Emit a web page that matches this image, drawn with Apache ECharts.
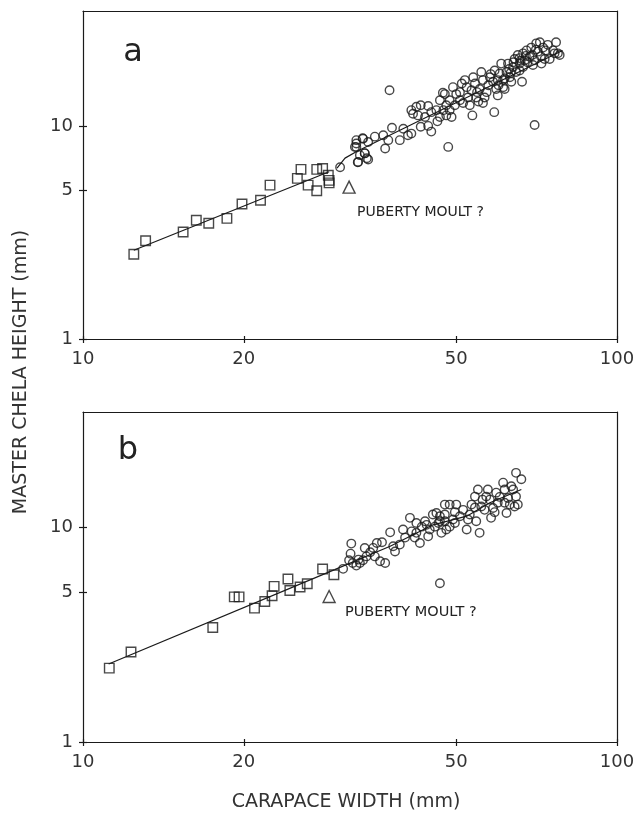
<!DOCTYPE html>
<html><head><meta charset="utf-8">
<script src="https://cdn.jsdelivr.net/npm/echarts@6/dist/echarts.min.js"></script>
<style>html,body{margin:0;padding:0;background:#fff}#c{width:638px;height:815px}</style>
</head><body><div id="c"></div>
<script>
// Axis ticks / ranges
const xTicks = [10, 20, 50, 100];
const yTicks = [1, 5, 10];
const xRange = [10, 100];
const yRange = [1, 34.6];

// Panel a: immature (squares), mature (circles)
const squaresA = [[12.45,2.50],[13.1,2.89],[15.4,3.18],[16.3,3.61],[17.2,3.49],[18.6,3.68],[19.85,4.30],[21.5,4.48],[22.4,5.27],[25.6,6.25],[25.2,5.67],[26.4,5.27],[27.4,4.96],[27.4,6.25],[28.1,6.31],[28.8,5.87],[28.9,5.40],[28.9,5.55]];
const circlesA = [[30.3,6.40],[32.5,8.27],[33.4,8.76],[32.5,7.95],[33.7,7.45],[32.7,6.75],[34.0,7.05],[32.5,8.57],[32.3,7.97],[33.45,8.7],[34.2,8.4],[35.2,8.9],[36.5,9.04],[37.3,8.57],[36.8,7.83],[37.9,9.8],[39.2,8.57],[39.8,9.7],[40.6,9.04],[41.2,9.2],[33.0,7.29],[33.7,7.43],[32.75,6.77],[34.2,6.95],
[41.2,11.85],[42.1,12.3],[42.9,12.5],[44.3,12.4],[41.5,11.4],[42.4,11.2],[43.7,11.0],[44.9,11.6],[42.9,9.9],[44.3,10.0],[44.9,9.4],[45.9,11.85],[46.6,11.0],[46.1,10.5],[47.3,11.85],[47.6,14.1],[48.6,13.2],[47.9,12.5],[48.6,11.85],[49.0,11.0],[47.9,11.2],
[49.3,15.2],[50.0,14.1],[50.8,13.2],[51.9,16.4],[52.3,15.2],[52.6,13.6],[51.5,12.8],[53.4,14.7],[54.5,13.6],[54.2,15.8],[55.3,14.9],[55.7,17.9],[56.1,16.4],[56.5,13.6],[57.4,15.5],[57.8,16.9],[58.6,16.1],[59.0,18.2],[59.4,14.9],[60.3,17.6],[60.7,19.6],[61.2,16.4],[61.6,14.9],[62.1,17.9],[62.5,19.6],[63.0,16.9],[63.9,18.9],[64.3,20.6],[65.2,21.5],[65.7,19.6],[66.7,21.9],[67.2,20.3],[67.7,22.6],[68.6,21.1],[69.1,23.3],[69.6,19.3],[70.6,24.4],[71.1,22.3],[71.7,24.7],[72.2,19.6],[72.7,23.3],[73.2,20.6],[74.8,20.6],[75.9,22.6],[76.9,24.7],[77.5,21.9],[78.1,21.5],[76.4,21.9],[70.1,20.3],[66.7,18.9],[64.7,17.9],[63.4,16.1],[61.2,15.2],
[37.5,14.7],[48.3,7.97],[53.6,11.2],[58.9,11.6],[70.1,10.1],[66.4,16.1],[56.1,12.8],
[46.6,13.2],[47.2,14.3],[49.7,12.5],[50.8,14.4],[53.0,12.5],[54.7,14.4],[57.0,14.4],[59.8,16.4],[61.6,16.7],[63.2,17.7],[65.7,18.2],[68.0,19.9],[69.4,21.5],[73.5,22.6],[65.7,20.8],[59.8,13.9],
[51.2,15.8],[53.8,16.9],[55.0,13.0],[58.0,17.5],[60.0,15.5],[62.8,18.5],[64.0,19.9],[66.0,20.2],[67.5,21.3],[70.5,22.8],[72.0,21.2],[74.2,24.0]];
const fitSquaresA = [[12.45,2.61],[28.9,6.09]];
const fitCirclesA = [[29.9,6.34],[30.95,7.06],[32.6,7.61],[79.1,22.6]];
const moultA = [[31.5,5.16]];

// Panel b
const squaresB = [[11.2,2.21],[12.3,2.63],[17.5,3.42],[19.2,4.75],[19.6,4.75],[20.95,4.21],[21.9,4.52],[22.6,4.81],[22.8,5.32],[24.2,5.76],[24.4,5.09],[25.5,5.28],[26.3,5.47],[28.1,6.41],[29.5,6.03]];
const circlesB = [[30.7,6.42],[31.8,8.42],[31.7,7.56],[31.5,7.04],[32.5,6.65],[33.45,7.04],[33.7,8.03],[33.0,6.84],[32.0,6.84],[32.8,7.09],[33.95,7.34],[34.5,7.67],[34.95,8.04],[35.2,7.34],[35.5,8.48],[36.3,8.54],[36.0,6.97],[36.8,6.84],[37.6,9.5],[38.1,8.18],[38.4,7.74],[39.2,8.33],[39.75,9.79],[40.1,8.98],[40.95,11.1],[41.25,9.6],[41.8,8.98],[42.1,9.45],[42.75,8.48],[43.1,10.1],[43.7,10.7],[44.3,9.1],[44.6,9.79],[45.2,11.5],[45.6,10.1],[46.3,10.5],[46.6,11.3],[46.9,9.45],[47.6,10.7],[47.9,9.79],[48.6,10.1],[49.3,10.9],[48.6,12.8],[47.6,12.8],[50.0,12.8],[49.7,10.5],[50.8,11.3],[51.5,12.1],[52.3,9.79],[53.0,11.5],[53.4,12.8],[54.2,13.95],[54.5,10.7],[55.3,9.45],[54.9,15.05],[55.7,12.55],[56.5,12.1],[56.9,13.95],[57.3,15.05],[58.1,11.1],[57.8,13.5],[58.6,12.35],[59.4,14.55],[59.8,13.05],[61.2,16.2],[61.6,15.05],[62.1,11.7],[62.5,13.75],[63.0,12.8],[63.4,15.6],[63.9,15.05],[64.7,18.0],[64.7,13.95],[65.2,12.8],[66.2,16.8],[64.3,12.55],[45.9,11.7],[46.6,10.7],[44.0,10.3],[42.1,10.5],[46.6,5.5],[47.6,11.5],[49.7,11.8],[52.6,10.9],[54.2,12.4],[56.0,13.5],[60.3,13.9],[61.6,13.05],[59.0,11.8]];
const fitSquaresB = [[11.17,2.31],[29.6,6.37]];
const fitCirclesB = [[29.6,6.37],[37.6,8.18],[45.25,10.3],[52.3,11.3],[57.8,13.05],[66.2,15.05]];
const moultB = [[28.9,4.77]];

const INK = '#1a1a1a';
const TXT = '#333';
const FONT = '"DejaVu Sans", sans-serif';

function axesFor(g) {
  const lineStyle = {color: INK, width: 1.2};
  const xs = [
    {type:'log', logBase:10, gridIndex:g, min:xRange[0], max:xRange[1], position:'bottom',
     axisLine:{show:true, lineStyle}, axisTick:{show:true, length:4, customValues:xTicks, lineStyle},
     axisLabel:{customValues:xTicks, fontSize:18, color:TXT, fontFamily:FONT, margin:11},
     splitLine:{show:false}},
    {type:'log', logBase:10, gridIndex:g, min:xRange[0], max:xRange[1], position:'top',
     axisLine:{show:true, lineStyle}, axisTick:{show:false}, axisLabel:{show:false}, splitLine:{show:false}},
    {type:'log', logBase:10, gridIndex:g, min:xRange[0], max:xRange[1], position:'bottom',
     axisLine:{show:false}, axisTick:{show:true, inside:true, length:3, customValues:xTicks, lineStyle},
     axisLabel:{show:false}, splitLine:{show:false}}
  ];
  const ys = [
    {type:'log', logBase:10, gridIndex:g, min:yRange[0], max:yRange[1], position:'left',
     axisLine:{show:true, lineStyle}, axisTick:{show:true, length:4, customValues:yTicks, lineStyle},
     axisLabel:{customValues:yTicks, fontSize:18, color:TXT, fontFamily:FONT, margin:10},
     splitLine:{show:false}},
    {type:'log', logBase:10, gridIndex:g, min:yRange[0], max:yRange[1], position:'right',
     axisLine:{show:true, lineStyle}, axisTick:{show:false}, axisLabel:{show:false}, splitLine:{show:false}},
    {type:'log', logBase:10, gridIndex:g, min:yRange[0], max:yRange[1], position:'left',
     axisLine:{show:false}, axisTick:{show:true, inside:true, length:4, customValues:yTicks, lineStyle},
     axisLabel:{show:false}, splitLine:{show:false}}
  ];
  return {xs, ys};
}
const A = axesFor(0), B = axesFor(1);

const hollow = {color:'rgba(0,0,0,0)', borderColor:INK, borderWidth:1.4};
function sc(data, xi, symbol, size) {
  return {type:'scatter', xAxisIndex:xi, yAxisIndex:xi, data, symbol, symbolSize:size,
          itemStyle:hollow, silent:true, z:3};
}
function ln(data, xi) {
  return {type:'line', xAxisIndex:xi, yAxisIndex:xi, data, showSymbol:false, symbol:'none',
          lineStyle:{color:INK, width:1.2}, silent:true, z:2};
}

const option = {
  backgroundColor:'#fff',
  animation:false,
  grid:[
    {left:83, top:11, width:534, height:328},
    {left:83, top:412, width:534, height:330}
  ],
  xAxis:[...A.xs, ...B.xs],
  yAxis:[...A.ys, ...B.ys],
  series:[
    ln(fitSquaresA,0), ln(fitCirclesA,0),
    sc(squaresA,0,'rect',9.5), sc(circlesA,0,'circle',8.5), sc(moultA,0,'triangle',12),
    ln(fitSquaresB,3), ln(fitCirclesB,3),
    sc(squaresB,3,'rect',9.5), sc(circlesB,3,'circle',8.5), sc(moultB,3,'triangle',12)
  ],
  graphic:[
    {type:'text', x:133, y:53, style:{text:'a', font:'32px '+FONT, fill:'#222', align:'center', verticalAlign:'middle'}},
    {type:'text', x:128, y:451, style:{text:'b', font:'32px '+FONT, fill:'#222', align:'center', verticalAlign:'middle'}},
    {type:'text', x:357, y:212, style:{text:'PUBERTY MOULT ?', font:'14px '+FONT, fill:'#222', align:'left', verticalAlign:'middle'}},
    {type:'text', x:345, y:612, style:{text:'PUBERTY MOULT ?', font:'14.5px '+FONT, fill:'#222', align:'left', verticalAlign:'middle'}},
    {type:'text', x:21, y:372, rotation:Math.PI/2, style:{text:'MASTER CHELA HEIGHT (mm)', font:'19px '+FONT, fill:TXT, align:'center', verticalAlign:'middle'}},
    {type:'text', x:346, y:802, style:{text:'CARAPACE WIDTH (mm)', font:'19px '+FONT, fill:TXT, align:'center', verticalAlign:'middle'}}
  ]
};
echarts.init(document.getElementById('c'), null, {renderer:'canvas'}).setOption(option);
</script></body></html>
